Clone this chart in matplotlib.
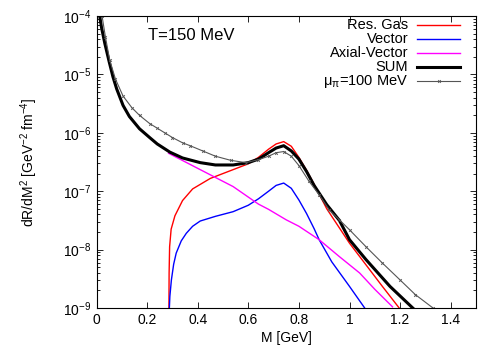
import numpy as np
import matplotlib
matplotlib.use('Agg')
import matplotlib.pyplot as plt
from matplotlib.ticker import LogFormatterMathtext, FixedLocator, NullFormatter, FuncFormatter

plt.rcParams['font.family'] = ['Liberation Sans', 'DejaVu Sans']
plt.rcParams['mathtext.fontset'] = 'custom'
plt.rcParams['mathtext.rm'] = 'Liberation Sans'
plt.rcParams['mathtext.it'] = 'Liberation Sans'

# curves: M in GeV, log10 of dR/dM^2
sum_m = [0.012, 0.02, 0.033, 0.05, 0.065, 0.08, 0.105, 0.13, 0.17, 0.21, 0.24, 0.29, 0.34,
         0.41, 0.47, 0.54, 0.60, 0.64, 0.68, 0.71, 0.74, 0.77, 0.80, 0.83, 0.86, 0.91,
         0.96, 1.00, 1.065, 1.16, 1.25]
sum_log = [-3.98, -4.2, -4.47, -4.78, -5.04, -5.25, -5.53, -5.72, -5.93, -6.08, -6.19, -6.33, -6.43,
           -6.51, -6.55, -6.55, -6.51, -6.45, -6.34, -6.26, -6.22, -6.31, -6.45, -6.66, -6.90, -7.23,
           -7.50, -7.83, -8.17, -8.63, -9.0]

red_m = [0.286, 0.287, 0.289, 0.295, 0.31, 0.34, 0.38, 0.45, 0.54, 0.60, 0.64, 0.68, 0.71,
         0.74, 0.77, 0.80, 0.83, 0.86, 0.91, 1.00, 1.065, 1.13, 1.20]
red_log = [-9.2, -8.4, -7.95, -7.65, -7.42, -7.16, -6.96, -6.78, -6.63, -6.53, -6.42, -6.28, -6.19,
           -6.15, -6.23, -6.42, -6.64, -6.88, -7.30, -7.89, -8.26, -8.63, -9.02]

blue_m = [0.286, 0.288, 0.29, 0.296, 0.305, 0.315, 0.335, 0.355, 0.38, 0.41, 0.47, 0.54, 0.60,
          0.64, 0.68, 0.71, 0.74, 0.77, 0.80, 0.83, 0.86, 0.88, 0.93, 1.00, 1.06]
blue_log = [-9.2, -9.0, -8.8, -8.52, -8.25, -8.06, -7.85, -7.72, -7.60, -7.51, -7.43, -7.35, -7.24,
            -7.13, -7.0, -6.90, -6.86, -6.95, -7.15, -7.38, -7.64, -7.83, -8.21, -8.63, -9.0]

mag_m = [0.285, 0.41, 0.54, 0.64, 0.68, 0.75, 0.80, 0.88, 0.96, 1.04, 1.10, 1.17]
mag_log = [-6.35, -6.63, -6.92, -7.22, -7.31, -7.49, -7.60, -7.83, -8.12, -8.40, -8.68, -8.98]

mu_m = [0.022, 0.035, 0.052, 0.075, 0.105, 0.14, 0.17, 0.21, 0.24, 0.27, 0.30, 0.34, 0.37,
        0.42, 0.47, 0.53, 0.59, 0.64, 0.68, 0.71, 0.74, 0.77, 0.80, 0.84, 0.88, 0.92, 0.96,
        1.00, 1.065, 1.13, 1.20, 1.26, 1.33]
mu_log = [-4.0, -4.35, -4.75, -5.08, -5.37, -5.57, -5.70, -5.84, -5.92, -6.0, -6.08, -6.17, -6.22,
          -6.31, -6.40, -6.47, -6.51, -6.46, -6.40, -6.34, -6.32, -6.40, -6.56, -6.83, -7.06, -7.32, -7.49,
          -7.66, -7.95, -8.23, -8.52, -8.77, -9.0]

x_ticks = [0, 0.2, 0.4, 0.6, 0.8, 1.0, 1.2, 1.4]
y_ticks = [1e-9, 1e-8, 1e-7, 1e-6, 1e-5, 1e-4]

labels = ['Res. Gas', 'Vector', 'Axial-Vector', 'SUM', r'$\mathregular{\mu_\pi}$=100 MeV']
colors = ['#ff0000', '#0000ff', '#ff00ff', 'black', '#555555']
widths = [1.0, 1.0, 1.0, 2.2, 0.8]

fig, ax = plt.subplots(figsize=(5, 3.5), dpi=100)
fig.subplots_adjust(left=0.193, right=0.952, top=0.954, bottom=0.12)

def p(vals):
    return 10.0 ** np.array(vals)

series = [(red_m, red_log), (blue_m, blue_log), (mag_m, mag_log), (sum_m, sum_log), (mu_m, mu_log)]
for i, (m, l) in enumerate(series):
    mk = 'x' if i == 4 else None
    ax.plot(m, p(l), color=colors[i], lw=widths[i], marker=mk, ms=2, mew=0.6)

ax.set_yscale('log')
ax.set_xlim(0, 1.5)
ax.set_ylim(1e-9, 1e-4)
ax.xaxis.set_major_locator(FixedLocator(x_ticks))
ax.xaxis.set_major_formatter(FuncFormatter(lambda v, pos: f'{v:g}'))
ax.yaxis.set_major_locator(FixedLocator(y_ticks))
ax.yaxis.set_major_formatter(LogFormatterMathtext())
minor_y = [k * 10.0 ** e for e in range(-9, -4) for k in range(2, 10)]
ax.yaxis.set_minor_locator(FixedLocator(minor_y))
ax.yaxis.set_minor_formatter(NullFormatter())
ax.tick_params(which='both', direction='in', top=True, right=True, labelsize=10, colors='black')
ax.tick_params(which='major', length=4, width=0.6)
ax.tick_params(which='minor', length=2, width=0.6)
for s in ax.spines.values():
    s.set_linewidth(0.8)

ax.set_xlabel('M [GeV]', fontsize=10, labelpad=3)
ax.set_ylabel(r'dR/dM$^{\mathregular{2}}$ [GeV$^{\mathregular{-2}}$ fm$^{\mathregular{-4}}$]',
              fontsize=10, labelpad=17)

ax.text(0.136, 0.935, 'T=150 MeV', transform=ax.transAxes, fontsize=12, va='center')

# key drawn gnuplot-style: right aligned text, sample line to the right
rows = [0.969, 0.920, 0.873, 0.825, 0.777]
for i, lab in enumerate(labels):
    ax.text(0.821, rows[i], lab, transform=ax.transAxes, fontsize=10.5, ha='right', va='center')
    ax.plot([0.845, 0.958], [rows[i], rows[i]], transform=ax.transAxes, color=colors[i],
            lw=widths[i], clip_on=False)
    if i == 4:
        ax.plot([0.9015], [rows[i]], transform=ax.transAxes, color=colors[i], marker='x',
                ms=2, mew=0.6, clip_on=False)

fig.savefig('out.png', dpi=100)
